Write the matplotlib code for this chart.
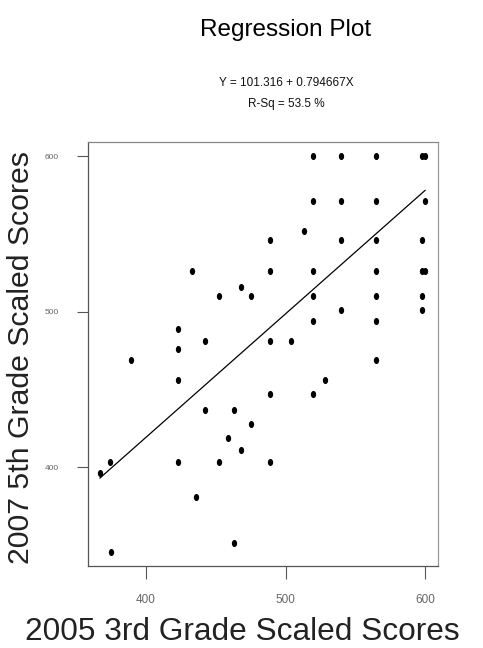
import numpy as np
import matplotlib
matplotlib.use("Agg")
import matplotlib.pyplot as plt
from matplotlib.path import Path

# 2005 3rd grade vs 2007 5th grade scaled scores
score_2005 = [367, 374, 375, 389, 423, 423, 423, 423, 433, 436,
              442, 442, 452, 452, 459, 463, 463, 468, 468, 475,
              475, 489, 489, 489, 489, 489, 504, 513, 520, 520,
              520, 520, 520, 520, 528, 540, 540, 540, 540, 565,
              565, 565, 565, 565, 565, 565, 598, 600, 600, 598,
              598, 600, 598, 598]
score_2007 = [396, 403, 345, 469, 489, 476, 456, 403, 526, 381,
              481, 437, 510, 403, 419, 437, 351, 516, 411, 510,
              428, 546, 526, 481, 447, 403, 481, 552, 600, 571,
              526, 510, 494, 447, 456, 600, 571, 546, 501, 600,
              571, 546, 526, 510, 494, 469, 600, 600, 571, 546,
              526, 526, 510, 501]

intercept = 101.316
slope = 0.794667
r_sq = 53.5

x_ticks = [400, 500, 600]
y_ticks = [400, 500, 600]

narrow = ["Liberation Sans Narrow", "Liberation Sans", "DejaVu Sans"]
regular = ["Liberation Sans", "DejaVu Sans"]

W, H = 483, 648
fig = plt.figure(figsize=(W / 100, H / 100), dpi=100)
ax = fig.add_axes([88 / W, 1 - 566 / H, 350 / W, 424 / H])

# slightly tall dots like the original
t = np.linspace(0, 2 * np.pi, 40)
dot = Path(np.column_stack([0.75 * np.cos(t), np.sin(t)]), closed=True)

ax.scatter(score_2005, score_2007, marker=dot, s=26, color="black",
           linewidths=0, zorder=3)

xs = np.array([min(score_2005), max(score_2005)])
ax.plot(xs, intercept + slope * xs, color="black", lw=0.9)

ax.set_xlim(358.4, 609.3)
ax.set_ylim(336.3, 609.3)
ax.set_xticks(x_ticks)
ax.set_yticks(y_ticks)
ax.set_xticklabels([str(v) for v in x_ticks], family=narrow, fontsize=8.5,
                   color="#666666")
ax.set_yticklabels([str(v) for v in y_ticks], family=narrow, fontsize=6,
                   color="#666666")
ax.tick_params(axis="x", length=9.5, width=0.8, color="#555555", pad=11)
ax.tick_params(axis="y", length=8, width=0.8, color="#555555", pad=13)
for side in ax.spines:
    ax.spines[side].set_color("#555555")
    ax.spines[side].set_linewidth(0.9)
ax.spines["top"].set_color("#888888")
ax.spines["right"].set_color("#999999")

fig.text(286 / W, 1 - 36 / H, "Regression Plot", family=narrow, fontsize=17.5,
         ha="center", va="baseline")
fig.text(286 / W, 1 - 86 / H, f"Y = {intercept} + {slope}X", family=narrow,
         fontsize=8.5, ha="center", va="baseline", color="#111111")
fig.text(286 / W, 1 - 107 / H, f"R-Sq = {r_sq} %", family=narrow,
         fontsize=8.5, ha="center", va="baseline", color="#111111")

fig.text(242 / W, 1 - 640 / H, "2005 3rd Grade Scaled Scores", family=regular,
         fontsize=22.8, ha="center", va="baseline", color="#222222")
fig.text(21 / W, 1 - 358 / H, "2007 5th Grade Scaled Scores", family=regular,
         fontsize=21.8, rotation=90, ha="center", va="center",
         color="#222222")

fig.savefig("out.png", dpi=100, facecolor="white")
